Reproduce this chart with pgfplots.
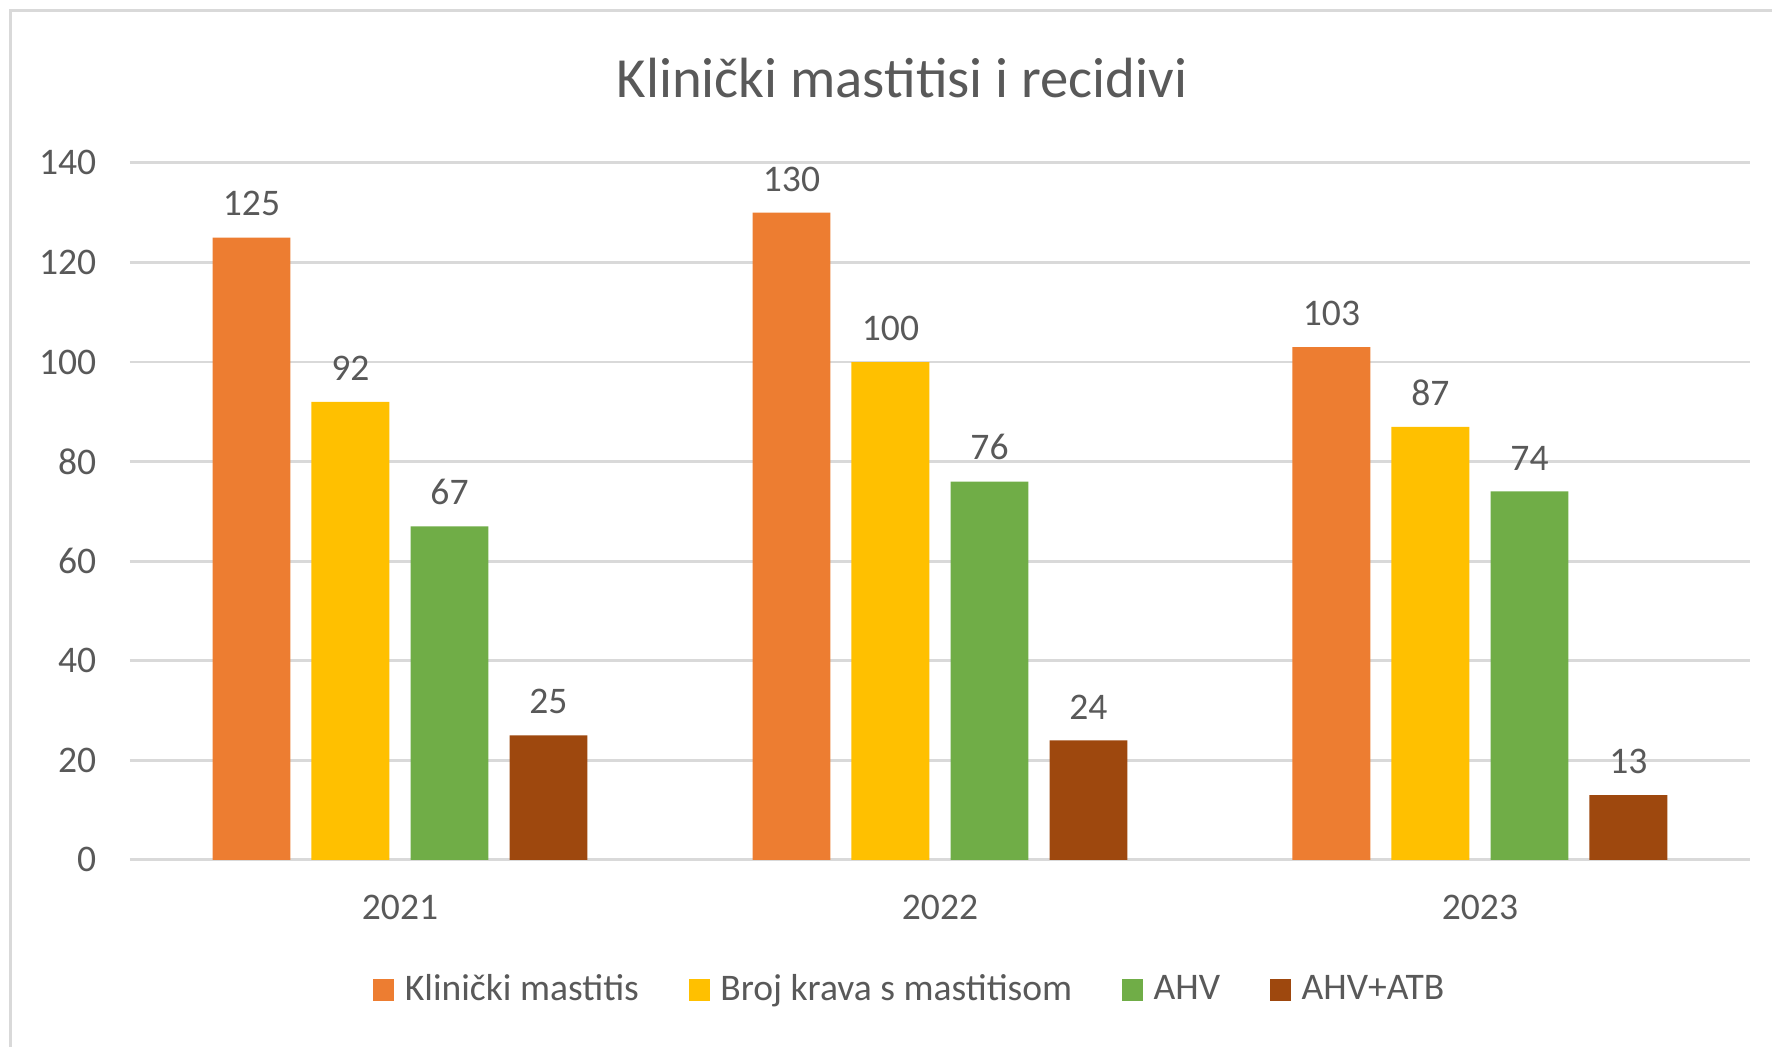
\documentclass[border=0pt]{standalone}
\usepackage{fontspec}
\setmainfont{Carlito}
\usepackage{pgfplots}
\pgfplotsset{compat=1.18}
\definecolor{cOr}{HTML}{ED7D31}
\definecolor{cYe}{HTML}{FFC000}
\definecolor{cGr}{HTML}{70AD47}
\definecolor{cBr}{HTML}{9E480E}
\definecolor{txt}{HTML}{595959}
\definecolor{gridc}{HTML}{D9D9D9}
\definecolor{bord}{HTML}{D9D9D9}
\begin{document}
\begin{tikzpicture}
\useasboundingbox (0,0) rectangle (500pt,295.4pt);
\fill[white] (0,0) rectangle (500pt,295.4pt);
\draw[line width=0.85pt, color=bord] (3.1pt,-2pt) -- (3.1pt,292.3pt) -- (503pt,292.3pt);
\node[anchor=base, font=\fontsize{16}{19}\selectfont, text=txt] at (254.5pt,268pt) {Klinički mastitisi i recidivi};
\begin{axis}[
  at={(36.68pt,52.77pt)}, anchor=south west,
  scale only axis, width=457.1pt, height=196.67pt,
  xmin=-0.5, xmax=2.5, ymin=0, ymax=140,
  enlargelimits=false,
  ytick={0,20,...,140},
  xtick={0,1,2}, xticklabels={2021,2022,2023},
  axis line style={draw=none},
  major tick length=0pt, tick style={draw=none},
  ymajorgrids, grid style={color=gridc, line width=0.8pt},
  /pgf/number format/assume math mode=true,
  ticklabel style={font=\fontsize{10.6}{12}\selectfont, text=txt},
  yticklabel style={xshift=-6pt},
  xticklabel style={yshift=-6.5pt},
  ybar,
  bar width=0.1444,
  nodes near coords,
  every node near coord/.append style={font=\fontsize{10.6}{12}\selectfont, text=txt, yshift=2.5pt},
  legend columns=4,
  legend style={draw=none, fill=none, at={(0.482,-0.1865)}, anchor=center,
    font=\fontsize{10.6}{12}\selectfont, text=txt,
    /tikz/every even column/.append style={column sep=12.8pt},
    nodes={inner sep=1.2pt}},
  legend image code/.code={\fill[#1] (0pt,-3pt) rectangle (6pt,3pt); \path (7.8pt,0pt);},
]
\addplot[fill=cOr, draw=none, bar shift=-0.275] coordinates {(0,125) (1,130) (2,103)};
\addplot[fill=cYe, draw=none, bar shift=-0.0917] coordinates {(0,92) (1,100) (2,87)};
\addplot[fill=cGr, draw=none, bar shift=0.0917] coordinates {(0,67) (1,76) (2,74)};
\addplot[fill=cBr, draw=none, bar shift=0.275] coordinates {(0,25) (1,24) (2,13)};
\legend{Klinički mastitis, Broj krava s mastitisom, AHV, AHV+ATB}
\end{axis}
\end{tikzpicture}
\end{document}
